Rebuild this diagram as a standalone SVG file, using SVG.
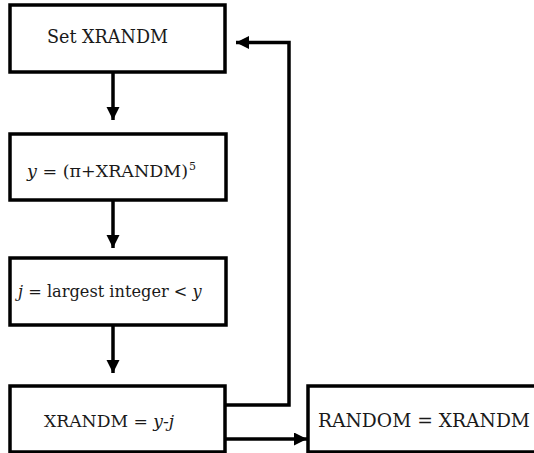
<svg xmlns="http://www.w3.org/2000/svg" width="534" height="453" viewBox="0 0 534 453">
  <defs>
    <marker id="arrow" markerUnits="userSpaceOnUse" markerWidth="14" markerHeight="14" refX="13" refY="6.5" orient="auto">
      <path d="M0,0 L13,6.5 L0,13 Z" fill="#000"/>
    </marker>
    <style>
      .box { fill: #fff; stroke: #000; stroke-width: 3.5; }
      .lbl { font-family: 'DejaVu Serif', serif; font-size: 18px; fill: #1a1a1a; }
      .it { font-style: italic; }
      .sup { font-size: 11px; }
      .conn { fill: none; stroke: #000; stroke-width: 3.5; }
    </style>
  </defs>
  <rect width="534" height="453" fill="#fff"/>

  <g id="connectors">
    <path class="conn" d="M113,72 V120" marker-end="url(#arrow)"/>
    <path class="conn" d="M113,200 V248" marker-end="url(#arrow)"/>
    <path class="conn" d="M113,325 V373" marker-end="url(#arrow)"/>
    <path class="conn" d="M225,405 H289 V42.5 H236" marker-end="url(#arrow)"/>
    <path class="conn" d="M225,439 H307" marker-end="url(#arrow)"/>
  </g>

  <g id="set-xrandm">
    <rect class="box" x="10" y="5" width="215" height="67"/>
    <text class="lbl" x="47" y="43" textLength="121" lengthAdjust="spacingAndGlyphs">Set XRANDM</text>
  </g>

  <g id="compute-y">
    <rect class="box" x="10" y="134" width="216" height="66"/>
    <text class="lbl" x="27" y="177" style="font-size:17.5px"><tspan class="it">y</tspan> = (π+XRANDM)<tspan class="sup" dx="1" dy="-7">5</tspan></text>
  </g>

  <g id="compute-j">
    <rect class="box" x="10" y="258" width="216" height="67"/>
    <text class="lbl" x="18" y="297" style="font-size:16.2px"><tspan class="it">j</tspan> = largest integer &lt; <tspan class="it">y</tspan></text>
  </g>

  <g id="update-xrandm">
    <rect class="box" x="10" y="386" width="215" height="66"/>
    <text class="lbl" x="44" y="427" style="font-size:17.2px">XRANDM = <tspan class="it">y-j</tspan></text>
  </g>

  <g id="random-out">
    <rect class="box" x="308" y="386" width="230" height="66"/>
    <text class="lbl" x="318" y="427" textLength="212" lengthAdjust="spacingAndGlyphs">RANDOM = XRANDM</text>
  </g>
</svg>
